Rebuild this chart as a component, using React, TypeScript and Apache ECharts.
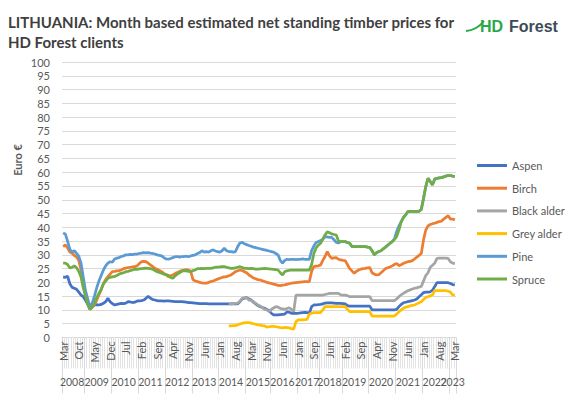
import { useEffect, useRef } from "react";
import * as echarts from "echarts";

// ---------- categories (monthly, with a few months absent in the source) ----------
const MONTH_NAMES = ["Jan", "Feb", "Mar", "Apr", "May", "Jun", "Jul", "Aug", "Sep", "Oct", "Nov", "Dec"];
const FIRST_MONTH = "2008-03";
const LAST_MONTH = "2023-03";
const MISSING_MONTHS = ["2015-06", "2017-05", "2017-11", "2018-03", "2018-10"];

function buildCategories(): string[] {
  const out: string[] = [];
  let [y, m] = FIRST_MONTH.split("-").map(Number);
  const [ly, lm] = LAST_MONTH.split("-").map(Number);
  while (y < ly || (y === ly && m <= lm)) {
    const key = `${y}-${String(m).padStart(2, "0")}`;
    if (!MISSING_MONTHS.includes(key)) out.push(key);
    m++;
    if (m > 12) {
      m = 1;
      y++;
    }
  }
  return out;
}
const categories = buildCategories();

// ---------- series values (one row per year) ----------
const aspen = [
  22, 21.8, 22.3, 19.5, 18.2, 17.9, 17.5, 16.5, 15.4, 14.8, // 2008
  13.5, 12, 10.3, 11.2, 11.8, 11.9, 11.8, 12, 12.4, 13, 14.2, 13, // 2009
  12.3, 11.8, 12, 12.2, 12.4, 12.3, 12.5, 13, 12.9, 12.7, 12.8, 13.2, // 2010
  13.3, 13.4, 13.6, 14.2, 15, 14.3, 13.8, 13.6, 13.4, 13.3, 13.3, 13.2, // 2011
  13.3, 13.3, 13.2, 13.1, 13, 13, 13, 13, 12.9, 12.8, 12.7, 12.7, // 2012
  12.6, 12.5, 12.4, 12.3, 12.3, 12.3, 12.3, 12.2, 12.2, 12.2, 12.2, 12.2, // 2013
  12.2, 12.2, 12.2, 12.2, 12.2, 12.2, 12.2, 12.2, 12.2, 13, 14, 14.3, // 2014
  14.5, 14, 13.6, 12.8, 12.2, 11.6, 11.2, 10.9, 10.6, 10.2, 9.8, // 2015
  8.8, 8.2, 8.2, 8.2, 8.3, 8.4, 8.5, 9.3, 9.2, 8.8, 8.8, 8.8, // 2016
  8.8, 8.9, 9, 9.1, 9, 8.8, 11.2, 11.8, 11.8, 11.9, // 2017
  12, 12.2, 12.5, 12.6, 12.6, 12.6, 12.5, 12.4, 12.4, 12.4, // 2018
  12.3, 12.2, 11.6, 11.4, 11.4, 11.4, 11.4, 11.4, 11.4, 11.4, 11.4, 11.4, // 2019
  11.4, 10, 10, 10, 10, 10, 10, 10, 10, 10, 10, 10, // 2020
  10.2, 11.2, 12, 12.6, 12.8, 13, 13.2, 13.4, 13.6, 14, 14.8, 15.5, // 2021
  16.3, 16.5, 16.5, 16.6, 17.2, 18.5, 19.9, 19.9, 19.9, 19.9, 19.9, 19.9, // 2022
  19.6, 19.2, 19.1, // 2023
];

const birch = [
  33, 33.6, 32.5, 31, 30.6, 29.8, 29.2, 28, 24.5, 20, // 2008
  15.5, 12.4, 10.3, 11, 12, 13.5, 15.5, 17.3, 19.5, 21, 22.1, 23, // 2009
  23.9, 24, 24.2, 24.3, 24.5, 25, 25.2, 25.4, 25.5, 25.6, 25.7, 26, // 2010
  26.8, 27.5, 27.6, 27.5, 27, 26.3, 25.8, 25.1, 24.8, 24.3, 23.9, 23.3, // 2011
  22.8, 22.1, 22.4, 22.7, 23.2, 23.6, 24, 24.3, 24.5, 24.6, 24.5, 24, // 2012
  21, 20.5, 20.3, 20, 19.8, 19.7, 19.7, 20, 20.3, 20.5, 20.9, 21.2, // 2013
  21.5, 21.8, 22, 22.1, 22.4, 22.7, 23.3, 23.9, 24.2, 24.5, 24.3, 23.9, // 2014
  23.5, 22.7, 22.2, 21.6, 21.3, 21, 20.9, 20.6, 20.3, 20, 19.8, // 2015
  19.6, 19.4, 19.2, 18.9, 18.8, 19, 19.1, 19.3, 19.5, 19.7, 19.8, 19.9, // 2016
  20, 20.1, 20.2, 20.3, 20.3, 20.3, 24, 25.7, 25.9, 26, // 2017
  26.3, 28, 29.4, 31.2, 29.6, 28.7, 28.9, 29, 28.4, 28.2, // 2018
  28, 27.9, 26.5, 25, 24.2, 23.3, 24, 24.5, 24.8, 25, 25.1, 25.3, // 2019
  25.4, 23.5, 23, 22.7, 22.8, 23.5, 24.2, 25, 25.3, 25.6, 26, 26.5, // 2020
  26.9, 26.1, 26.4, 26.9, 27.2, 27.5, 27.6, 27.9, 28.5, 29.2, 29.8, 30.5, // 2021
  35.5, 39, 40.5, 41, 41.3, 41.5, 41.8, 42.1, 42.2, 43, 43.6, 44.2, // 2022
  43, 43, 42.7, // 2023
];

const blackAlder = [
  null, null, null, null, null, null, null, null, null, null, // 2008
  null, null, null, null, null, null, null, null, null, null, null, null, // 2009
  null, null, null, null, null, null, null, null, null, null, null, null, // 2010
  null, null, null, null, null, null, null, null, null, null, null, null, // 2011
  null, null, null, null, null, null, null, null, null, null, null, null, // 2012
  null, null, null, null, null, null, null, null, null, null, null, null, // 2013
  null, null, null, null, 12.2, 12.2, 12.3, 12.4, 12.5, 13.2, 14.2, 14.4, // 2014
  14.5, 13.6, 13.5, 13, 12.4, 11.8, 11.4, 10.8, 10.2, 10, 9.4, // 2015
  10.2, 10.7, 11.2, 11, 10.6, 10.4, 10.2, 10.5, 10.8, 10.2, 9.4, 15.4, // 2016
  15.4, 15.4, 15.4, 15.4, 15.4, 15.4, 15.4, 15.4, 15.4, 15.4, // 2017
  15.4, 15.4, 15.6, 15.8, 16, 16, 16, 16, 16, 15.5, // 2018
  15.4, 15.4, 15.2, 14.8, 14.8, 14.8, 14.8, 14.8, 14.8, 14.8, 14.8, 14.8, // 2019
  14.8, 13.4, 13.4, 13.4, 13.4, 13.4, 13.4, 13.4, 13.4, 13.4, 13.4, 13.4, // 2020
  14, 14.8, 15.5, 16, 16.5, 17, 17.3, 17.6, 17.9, 18, 18.3, 18.5, // 2021
  20.5, 22.5, 23.5, 25.5, 26.2, 27, 28.7, 28.8, 28.8, 28.8, 28.8, 28.7, // 2022
  27.5, 27, 26.8, // 2023
];

const greyAlder = [
  null, null, null, null, null, null, null, null, null, null, // 2008
  null, null, null, null, null, null, null, null, null, null, null, null, // 2009
  null, null, null, null, null, null, null, null, null, null, null, null, // 2010
  null, null, null, null, null, null, null, null, null, null, null, null, // 2011
  null, null, null, null, null, null, null, null, null, null, null, null, // 2012
  null, null, null, null, null, null, null, null, null, null, null, null, // 2013
  null, null, null, null, 4.2, 4.2, 4.3, 4.3, 4.6, 4.9, 5.2, 5.3, // 2014
  5.4, 5.4, 5.2, 5, 4.8, 4.6, 4.5, 4.3, 4.2, 3.8, 3.9, // 2015
  4, 4, 3.9, 3.8, 3.6, 3.5, 3.7, 3.6, 3.5, 3.2, 3, 5.8, // 2016
  6.4, 6.4, 6.4, 6.5, 6.6, 8.5, 8.8, 9, 9, 9, // 2017
  9, 10, 11.2, 11.2, 11.2, 11.2, 11.2, 11.2, 11.2, 11.2, // 2018
  11.2, 11.2, 10.2, 9.4, 9.4, 9.4, 9.4, 9.4, 9.4, 9.4, 9.4, 9.4, // 2019
  9.4, 7.8, 7.8, 7.8, 7.8, 7.8, 7.8, 7.8, 7.8, 7.8, 7.8, 7.8, // 2020
  8.5, 9.3, 10, 10.6, 11, 11.2, 11.5, 11.7, 11.8, 12.2, 12.6, 13, // 2021
  13.8, 14.5, 14.8, 15.1, 15.5, 17, 17, 17, 17, 17, 17, 16.8, // 2022
  16.5, 15.5, 15.4, // 2023
];

const pine = [
  38, 37.5, 35, 32, 31, 31.5, 30.5, 29.5, 27, 22, // 2008
  17, 14, 11, 12.5, 15, 18, 20.5, 22.5, 24.5, 26, 27, 27.5, // 2009
  27.3, 28.5, 28.8, 29, 29.4, 29.6, 30, 30, 30.2, 30.1, 30.3, 30.3, // 2010
  30.5, 30.6, 30.8, 30.7, 30.8, 30.6, 30.5, 30.3, 30, 29.8, 29.6, 29, // 2011
  28.5, 28.4, 28.7, 29, 29.3, 29.4, 29.2, 29.4, 29.4, 29.5, 29.3, 29.6, // 2012
  29.8, 30, 30.5, 30.8, 31.5, 31, 31.2, 31, 31.5, 31.8, 31.4, 31.2, // 2013
  31, 31.5, 32.4, 31.5, 31.2, 31.2, 31, 31.2, 33, 34.3, 34.5, 34, // 2014
  33.7, 33.4, 33.1, 32.8, 32.6, 32.4, 32.2, 32, 31.8, 31.6, 31.4, // 2015
  31.2, 31, 30.5, 30, 28, 27, 28, 28.4, 28.3, 28.4, 28.4, 28.3, // 2016
  28.4, 28.4, 28.5, 28.4, 28.4, 28.4, 31.5, 33.2, 34.5, 34.8, // 2017
  35.2, 35.6, 36.5, 36.5, 36.3, 36.3, 35.5, 34.5, 34.3, 34.8, // 2018
  34.8, 34.8, 34.5, 34.2, 33, 33, 33, 33, 33, 33, 33, 32.8, // 2019
  32.7, 31.5, 30, 30.8, 31.2, 31.5, 32.2, 32.8, 33.5, 34.2, 34.8, 35.8, // 2020
  38.5, 40.5, 42, 43.5, 44.5, 45.7, 45.8, 45.8, 45.8, 45.8, 45.8, 46.5, // 2021
  50.5, 54.8, 57.8, 56.6, 55.4, 57.5, 57.8, 57.9, 58, 58.3, 58.6, 58.8, // 2022
  58.8, 58.6, 58.5, // 2023
];

const spruce = [
  27, 27, 26.5, 25.2, 25.5, 26, 25.3, 24, 22, 18, // 2008
  15, 12, 10.2, 11, 12.5, 14.5, 16, 17.5, 19.5, 20.5, 21.5, 21.8, // 2009
  22, 22.2, 22.5, 23, 23.3, 23.5, 23.9, 24, 24.3, 24.5, 24.8, 24.7, // 2010
  24.9, 25, 25.1, 25.2, 25.1, 25, 24.8, 24.3, 23.9, 23.6, 23.3, 23, // 2011
  22.8, 22.6, 21.8, 21.5, 22.3, 23, 23.5, 24, 24.3, 24.2, 24, 23.9, // 2012
  24.3, 24.5, 25, 25, 25.1, 25, 25.1, 25.1, 25.1, 25.3, 25.5, 25.5, // 2013
  25.6, 25.7, 25.7, 25.5, 25.3, 25.1, 25.1, 25.3, 25.5, 25.7, 25.4, 25.1, // 2014
  25.1, 25, 25.1, 25, 24.8, 24.8, 24.9, 25, 25.1, 25, 24.9, // 2015
  24.8, 24.7, 24.6, 24.5, 23.5, 22.7, 23.9, 24.2, 24.4, 24.5, 24.5, 24.5, // 2016
  24.5, 24.5, 24.5, 24.5, 24.5, 24.5, 26.5, 30.5, 32.5, 33.5, // 2017
  34.2, 35.8, 37.2, 38.4, 38, 37.6, 37.4, 37.2, 35, 34.8, // 2018
  34.8, 34.8, 34.5, 34.2, 33, 33, 33, 33, 33, 33, 33, 32.8, // 2019
  32.7, 31.5, 30, 30.8, 31.2, 31.5, 32.2, 32.8, 33.5, 34.2, 34.8, 35.6, // 2020
  36.6, 39, 42, 43.5, 44.5, 45.7, 45.8, 45.8, 45.8, 45.8, 45.8, 46.5, // 2021
  50.5, 54.8, 57.8, 56.6, 55.4, 57.5, 57.8, 57.9, 58, 58.3, 58.6, 58.8, // 2022
  58.8, 58.6, 58.5, // 2023
];

const SERIES_NAMES = ["Aspen", "Birch", "Black alder", "Grey alder", "Pine", "Spruce"];
const SERIES_DATA = [aspen, birch, blackAlder, greyAlder, pine, spruce];
const SERIES_COLORS = ["#4472C4", "#ED7D31", "#A5A5A5", "#FFC000", "#5B9BD5", "#70AD47"];

const Y_MIN = 0;
const Y_MAX = 100;
const Y_STEP = 5;

const TITLE = "LITHUANIA: Month based estimated net standing timber prices for\nHD Forest clients";
const Y_TITLE = "Euro €";

const FONT = "Lato, 'Noto Sans', sans-serif";
const TEXT_GREY = "#595959";

export default function App() {
  const ref = useRef<HTMLDivElement>(null);

  useEffect(() => {
    if (!ref.current) return;
    const chart = echarts.init(ref.current, undefined, { renderer: "svg" });

    const yearGroups: Record<string, number[]> = {};
    categories.forEach((c, i) => {
      const y = c.slice(0, 4);
      (yearGroups[y] = yearGroups[y] || []).push(i);
    });
    const yearStarts = new Set<number>();
    const yearMids: number[] = [];
    Object.values(yearGroups).forEach((idx) => {
      yearStarts.add(idx[0]);
      yearMids.push(idx[Math.floor((idx.length - 1) / 2)]);
    });
    // the last year's label sits on its own axis so it can overlap its neighbour, as in the original
    const lastYearMid = yearMids[yearMids.length - 1];
    const mainYearMids = new Set(yearMids.slice(0, -1));

    const yearLabelStyle = {
      margin: 39,
      fontFamily: FONT,
      fontSize: 10.5,
      color: TEXT_GREY,
      showMinLabel: true,
      showMaxLabel: true,
      formatter: (v: string) => v.slice(0, 4),
    };

    chart.setOption({
      animation: false,
      backgroundColor: "#ffffff",
      textStyle: { fontFamily: FONT },
      title: {
        text: TITLE,
        left: 8,
        top: 12,
        padding: 0,
        textStyle: {
          fontFamily: FONT,
          fontWeight: "bold",
          fontSize: 15,
          lineHeight: 20,
          color: "#404040",
        },
      },
      grid: { left: 62, top: 62, width: 394, height: 275.5, containLabel: false },
      legend: {
        orient: "vertical",
        left: 472,
        top: 153.5,
        itemWidth: 30,
        itemHeight: 3,
        itemGap: 8.7,
        icon: "rect",
        data: SERIES_NAMES,
        textStyle: { fontFamily: FONT, fontSize: 11, color: TEXT_GREY, lineHeight: 14 },
      },
      xAxis: [
        {
          type: "category",
          data: categories,
          boundaryGap: true,
          position: "bottom",
          offset: 0,
          axisLine: { show: true, lineStyle: { color: "#d9d9d9", width: 1 } },
          axisTick: { show: true, interval: 0, length: 31, lineStyle: { color: "#e3e3e3", width: 1 } },
          axisLabel: {
            interval: 6,
            rotate: 90,
            margin: 4,
            fontFamily: FONT,
            fontSize: 11,
            color: TEXT_GREY,
            formatter: (v: string) => MONTH_NAMES[Number(v.slice(5)) - 1],
          },
          splitLine: { show: false },
        },
        {
          type: "category",
          data: categories,
          boundaryGap: true,
          position: "bottom",
          offset: 0,
          axisLine: { show: false },
          axisTick: {
            show: true,
            interval: (i: number) => yearStarts.has(i),
            length: 56,
            lineStyle: { color: "#d9d9d9", width: 1 },
          },
          axisLabel: { ...yearLabelStyle, interval: (i: number) => mainYearMids.has(i) },
          splitLine: { show: false },
        },
        {
          type: "category",
          data: categories,
          boundaryGap: true,
          position: "bottom",
          offset: 0,
          axisLine: { show: false },
          axisTick: { show: false },
          axisLabel: { ...yearLabelStyle, interval: (i: number) => i === lastYearMid },
          splitLine: { show: false },
        },
      ],
      yAxis: {
        type: "value",
        min: Y_MIN,
        max: Y_MAX,
        interval: Y_STEP,
        axisLine: { show: false },
        axisTick: { show: false },
        axisLabel: { margin: 12, fontFamily: FONT, fontSize: 11, color: TEXT_GREY },
        splitLine: { lineStyle: { color: "#d9d9d9", width: 1 } },
      },
      graphic: [
        {
          type: "text",
          x: 17,
          y: 160,
          rotation: Math.PI / 2,
          style: {
            text: Y_TITLE,
            align: "center",
            verticalAlign: "middle",
            textAlign: "center",
            textVerticalAlign: "middle",
            font: `bold 11px ${FONT}`,
            fill: TEXT_GREY,
          },
        },
        {
          type: "bezierCurve",
          shape: { x1: 466, y1: 31, x2: 484, y2: 21, cpx1: 477, cpy1: 30 },
          style: { stroke: "#2ba84a", lineWidth: 2, fill: null },
        },
        {
          type: "text",
          x: 480,
          y: 26,
          style: {
            text: "HD",
            verticalAlign: "middle",
            textVerticalAlign: "middle",
            font: "bold 16px 'Liberation Sans', Arial, sans-serif",
            fill: "#2ba84a",
          },
        },
        {
          type: "text",
          x: 509,
          y: 26,
          style: {
            text: "Forest",
            verticalAlign: "middle",
            textVerticalAlign: "middle",
            font: "bold 16px 'Liberation Sans', Arial, sans-serif",
            fill: "#3d4b57",
          },
        },
      ],
      series: SERIES_NAMES.map((name, k) => ({
        name,
        type: "line",
        xAxisIndex: 0,
        data: SERIES_DATA[k],
        symbol: "none",
        connectNulls: false,
        lineStyle: { width: 2.75, color: SERIES_COLORS[k] },
        itemStyle: { color: SERIES_COLORS[k] },
      })),
    });

    return () => chart.dispose();
  }, []);

  return (
    <div
      ref={ref}
      style={{ position: "absolute", left: 0, top: 0, width: 570, height: 395, background: "#fff" }}
    />
  );
}
